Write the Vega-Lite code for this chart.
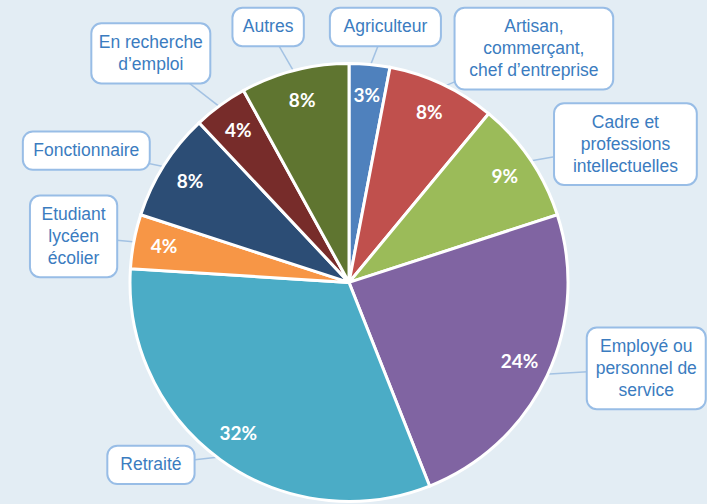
{
  "$schema": "https://vega.github.io/schema/vega-lite/v6.json",
  "width": 707,
  "height": 504,
  "autosize": {"type": "fit", "contains": "padding"},
  "padding": 0,
  "background": "#e3edf4",
  "view": {"stroke": null},
  "data": {
    "values": [
      {"cat": "Agriculteur", "value": 3, "rank": 1, "label": ["Agriculteur"]},
      {"cat": "Artisan, commerçant, chef d’entreprise", "value": 8, "rank": 2, "label": ["Artisan,", "commerçant,", "chef d’entreprise"]},
      {"cat": "Cadre et professions intellectuelles", "value": 9, "rank": 3, "label": ["Cadre et", "professions", "intellectuelles"]},
      {"cat": "Employé ou personnel de service", "value": 24, "rank": 4, "label": ["Employé ou", "personnel de", "service"]},
      {"cat": "Retraité", "value": 32, "rank": 5, "label": ["Retraité"]},
      {"cat": "Etudiant lycéen écolier", "value": 4, "rank": 6, "label": ["Etudiant", "lycéen", "écolier"]},
      {"cat": "Fonctionnaire", "value": 8, "rank": 7, "label": ["Fonctionnaire"]},
      {"cat": "En recherche d’emploi", "value": 4, "rank": 8, "label": ["En recherche", "d’emploi"]},
      {"cat": "Autres", "value": 8, "rank": 9, "label": ["Autres"]}
    ]
  },
  "transform": [
    {"joinaggregate": [{"op": "sum", "field": "value", "as": "total"}]},
    {"stack": "value", "groupby": [], "sort": [{"field": "rank", "order": "ascending"}], "as": ["v0", "v1"]},
    {"calculate": "PI * (datum.v0 + datum.v1) / datum.total", "as": "a"},
    {"calculate": "sin(datum.a)", "as": "s"},
    {"calculate": "cos(datum.a)", "as": "c"},
    {"calculate": "length(datum.label)", "as": "nl"},
    {"calculate": "max(length(datum.label[0]), datum.nl > 1 ? length(datum.label[1]) : 0, datum.nl > 2 ? length(datum.label[2]) : 0)", "as": "mc"},
    {"calculate": "(8 * datum.mc + 24) / 2", "as": "hw"},
    {"calculate": "(22 * datum.nl + 17) / 2", "as": "hh"},
    {"calculate": "clamp(2.5 * datum.s, -1, 1)", "as": "gx"},
    {"calculate": "datum.c >= 0 ? clamp((datum.c - 0.6) * 5, 0, 1) : -clamp((-datum.c - 0.6) * 5, 0, 1)", "as": "gy"},
    {"calculate": "(datum.c >= 0 ? (datum.s >= 0 ? 250 : 238) : 265) * datum.s + datum.hw * datum.gx", "as": "bx"},
    {"calculate": "clamp((datum.c >= 0 ? 250 : 205) * datum.c + datum.hh * datum.gy, -211 + datum.hh, 279 - datum.hh)", "as": "by"},
    {"calculate": "datum.by + (datum.nl - 1) * 11", "as": "ty"},
    {"calculate": "datum.bx - datum.hw", "as": "bx1"},
    {"calculate": "datum.bx + datum.hw", "as": "bx2"},
    {"calculate": "datum.by - datum.hh", "as": "by1"},
    {"calculate": "datum.by + datum.hh", "as": "by2"},
    {"calculate": "219 * datum.s", "as": "ex"},
    {"calculate": "219 * datum.c", "as": "ey"},
    {"calculate": "190 * datum.s", "as": "px"},
    {"calculate": "190 * datum.c", "as": "py"},
    {"calculate": "format(datum.value / datum.total, '.0%')", "as": "pct"}
  ],
  "layer": [
    {
      "mark": {"type": "rule", "color": "#a3c2e3", "strokeWidth": 1.5},
      "encoding": {
        "x": {"field": "ex", "type": "quantitative", "scale": {"domain": [-352, 355], "nice": false, "zero": false}, "axis": null},
        "y": {"field": "ey", "type": "quantitative", "scale": {"domain": [-217, 287], "nice": false, "zero": false}, "axis": null},
        "x2": {"field": "bx"},
        "y2": {"field": "by"}
      }
    },
    {
      "mark": {"type": "arc", "outerRadius": 219, "stroke": "white", "strokeWidth": 3},
      "encoding": {
        "x": {"datum": 0, "type": "quantitative"},
        "y": {"datum": 0, "type": "quantitative"},
        "theta": {"field": "v0", "type": "quantitative", "scale": {"domain": [0, 100], "range": [0, 6.283185307179586]}},
        "theta2": {"field": "v1"},
        "color": {
          "field": "cat",
          "type": "nominal",
          "legend": null,
          "scale": {
            "domain": ["Agriculteur", "Artisan, commerçant, chef d’entreprise", "Cadre et professions intellectuelles", "Employé ou personnel de service", "Retraité", "Etudiant lycéen écolier", "Fonctionnaire", "En recherche d’emploi", "Autres"],
            "range": ["#4F81BD", "#C0504D", "#9BBB59", "#8064A2", "#4BACC6", "#F79646", "#2C4D75", "#772C2A", "#5F7530"]
          }
        }
      }
    },
    {
      "mark": {"type": "text", "color": "white", "font": "Lato", "fontWeight": "bold", "fontSize": 19, "align": "center", "baseline": "middle"},
      "encoding": {
        "x": {"field": "px", "type": "quantitative"},
        "y": {"field": "py", "type": "quantitative"},
        "text": {"field": "pct"}
      }
    },
    {
      "mark": {"type": "rect", "fill": "white", "stroke": "#98bde6", "strokeWidth": 2, "cornerRadius": 10},
      "encoding": {
        "x": {"field": "bx1", "type": "quantitative"},
        "x2": {"field": "bx2"},
        "y": {"field": "by1", "type": "quantitative"},
        "y2": {"field": "by2"}
      }
    },
    {
      "mark": {"type": "text", "color": "#3b7cc0", "font": "Liberation Sans", "fontSize": 17.5, "lineHeight": 22, "align": "center", "baseline": "middle"},
      "encoding": {
        "x": {"field": "bx", "type": "quantitative"},
        "y": {"field": "ty", "type": "quantitative"},
        "text": {"field": "label"}
      }
    }
  ]
}
